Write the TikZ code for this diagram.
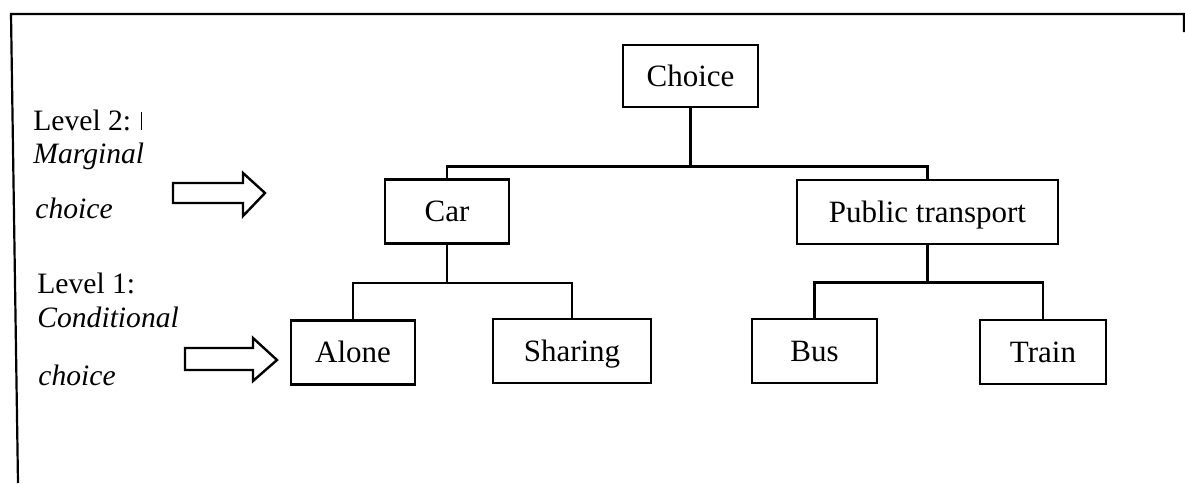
\documentclass[tikz,border=0pt]{standalone}
\usepackage{fontspec}
\setmainfont{Liberation Serif}
\usepackage{tikz}

\begin{document}
\begin{tikzpicture}[x=0.5pt,y=-0.5pt,
  box/.style={draw,line width=1.4pt,inner sep=0pt,minimum height=32pt,text height=11pt,text depth=1pt,font=\fontsize{15.5}{18}\selectfont},
  lbl/.style={anchor=base west,inner sep=0pt,font=\fontsize{14.8}{17}\selectfont},
  conn/.style={line width=1.2pt},
  blockarr/.style={line width=1.2pt,line join=miter}]
\useasboundingbox (0,0) rectangle (1185,483);
\draw[line width=1.1pt] (1184,32) -- (1184,14) -- (11,14) -- (18,483);

\node[box,minimum width=67.5pt,minimum height=31pt] (choice) at (690.5,76) {Choice};
\node[box,minimum width=62pt] (car) at (447,211.5) {Car};
\node[box,minimum width=130.5pt] (pt) at (927.5,212) {Public transport};
\node[box,minimum width=62pt] (alone) at (353,352.5) {Alone};
\node[box,minimum width=79pt] (sharing) at (572,351) {Sharing};
\node[box,minimum width=62.5pt] (bus) at (814.5,351) {Bus};
\node[box,minimum width=63pt] (train) at (1043,352) {Train};

\path (choice.south) ++(0,58) coordinate (jtop);
\path (car.south) ++(0,38) coordinate (jcar);
\path (pt.south) ++(0,37) coordinate (jpt);

\draw[conn] (choice.south) -- (jtop);
\draw[conn] (car.north) |- (jtop) -| (pt.north);
\draw[conn] (car.south) -- (jcar);
\draw[conn] (alone.north) |- (jcar) -| (sharing.north);
\draw[conn] (pt.south) -- (jpt);
\draw[conn] (bus.north) |- (jpt) -| (train.north);

\node[lbl] (lev2) at (33,130) {Level 2: \rule{0.6pt}{0.62em}};
\node[lbl] (marg2) at (33,163) {\textit{Marginal}};
\node[lbl] (cho2) at (35,218) {\textit{choice}};
\node[lbl] (lev1) at (37,293) {Level 1:};
\node[lbl] (cond1) at (37,327) {\textit{Conditional}};
\node[lbl] (cho1) at (38,385) {\textit{choice}};

\draw[blockarr] (173,183) -- (243,183) -- (243,173) -- (265,193) -- (243,216) -- (243,203) -- (173,203) -- cycle;
\draw[blockarr] (185,348) -- (253,348) -- (253,338) -- (277,360) -- (253,381) -- (253,370) -- (185,370) -- cycle;
\end{tikzpicture}
\end{document}
